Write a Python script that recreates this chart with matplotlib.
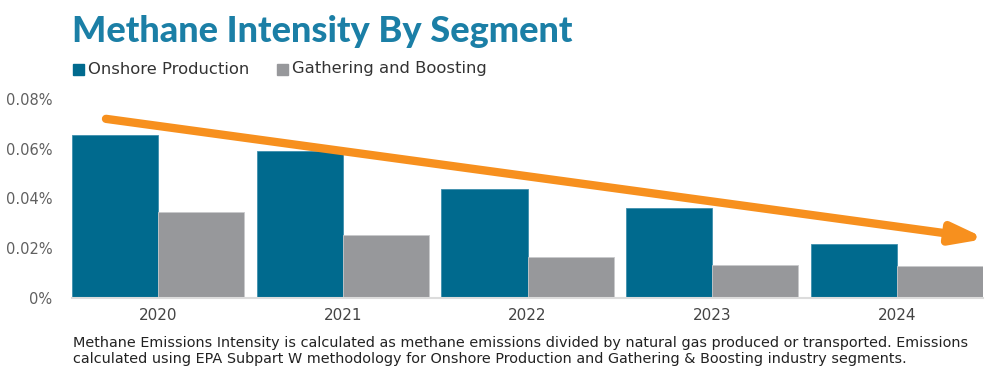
import matplotlib
matplotlib.use("Agg")
import matplotlib.pyplot as plt
import numpy as np

years = ["2020", "2021", "2022", "2023", "2024"]
onshore = [0.0655, 0.0589, 0.0439, 0.0363, 0.0217]
gathering = [0.0346, 0.0252, 0.0165, 0.0131, 0.0129]
yticks = [0, 0.02, 0.04, 0.06, 0.08]
ytick_labels = ["0%", "0.02%", "0.04%", "0.06%", "0.08%"]
series_names = ["Onshore Production", "Gathering and Boosting"]

TEAL = "#006a8e"
GRAY = "#97989b"
ORANGE = "#f7901e"
TITLE = "#1b7fa6"

plt.rcParams['font.family'] = ['DejaVu Sans']

fig = plt.figure(figsize=(9.86, 3.85), dpi=100)
ax = fig.add_axes([0.0727, 0.226, 0.9246, 0.517])

x = np.arange(len(years))
w = 0.4656
ax.bar(x - w/2, onshore, width=w, color=TEAL, edgecolor="#3f8fae", linewidth=0.6, label=series_names[0])
ax.bar(x + w/2, gathering, width=w, color=GRAY, edgecolor="#c8c9cb", linewidth=0.6, label=series_names[1])

ax.set_xlim(-w, len(years) - 1 + w)
ax.set_ylim(0, 0.08)
ax.set_yticks(yticks)
ax.set_yticklabels(ytick_labels)
ax.set_xticks(x)
ax.set_xticklabels(years, fontweight="medium")
ax.tick_params(axis="y", length=0, pad=14, labelsize=10.5, labelcolor="#606060")
ax.tick_params(axis="x", length=0, pad=7, labelsize=11, labelcolor="#444444")
for s in ["top", "right", "left"]:
    ax.spines[s].set_visible(False)
ax.spines["bottom"].set_color("#dcdcdc")
ax.spines["bottom"].set_linewidth(1.5)

# trend arrow
ax.annotate("", xy=(4.48, 0.0238), xytext=(-0.28, 0.072),
            arrowprops=dict(arrowstyle="-|>,head_length=1.9,head_width=0.6",
                            color=ORANGE, lw=6, capstyle="round",
                            shrinkA=0, shrinkB=0),
            annotation_clip=False, zorder=5)

fig.text(0.073, 0.918, "Methane Intensity By Segment", fontsize=26, fontweight="black",
         color=TITLE, va="center", ha="left", family=["Lato", "DejaVu Sans"])

# legend
fig.patches.append(matplotlib.patches.Rectangle((73/986, 1 - 75/385), 11/986, 11/385,
                   transform=fig.transFigure, color=TEAL))
fig.text(88/986, 1 - 69/385, series_names[0], fontsize=11.8, color="#333333", va="center", ha="left")
fig.patches.append(matplotlib.patches.Rectangle((277/986, 1 - 75/385), 11/986, 11/385,
                   transform=fig.transFigure, color=GRAY))
fig.text(292/986, 1 - 69/385, series_names[1], fontsize=11.8, color="#333333", va="center", ha="left")

fig.text(73/986, 1 - 351/385,
         "Methane Emissions Intensity is calculated as methane emissions divided by natural gas produced or transported. Emissions\n"
         "calculated using EPA Subpart W methodology for Onshore Production and Gathering & Boosting industry segments.",
         fontsize=10.4, color="#222222", va="center", ha="left", linespacing=1.2)

fig.savefig("out.png", dpi=100)
